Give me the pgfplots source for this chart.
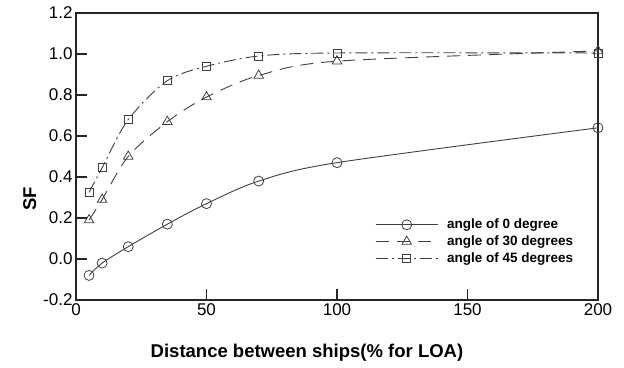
\documentclass[border=0pt]{standalone}
\usepackage{pgfplots}
\pgfplotsset{compat=1.18}
\usepackage{fontspec}
\setmainfont{Liberation Sans}
\begin{document}
\begin{tikzpicture}
\useasboundingbox (-76pt,-67pt) rectangle (548pt,300pt);
\begin{axis}[
  at={(0pt,0pt)}, anchor=south west,
  scale only axis,
  width=522pt, height=287pt,
  xmin=0, xmax=200, ymin=-0.2, ymax=1.2,
  xtick={0,50,100,150,200},
  ytick={-0.2,0,0.2,0.4,0.6,0.8,1.0,1.2},
  tick align=inside,
  xtick pos=bottom, ytick pos=left,
  major tick length=11pt,
  tick style={black!85, line width=1.3pt},
  axis line style={black!85, line width=1.8pt},
  /pgf/number format/assume math mode=true,
  yticklabel style={/pgf/number format/.cd, fixed, fixed zerofill, precision=1},
  ticklabel style={font=\fontsize{17}{18}\selectfont},
  xlabel={\bfseries Distance between ships(\% for LOA)},
  ylabel={\bfseries SF},
  label style={font=\fontsize{18.5}{20}\selectfont},
  xlabel style={at={(axis description cs:0.4425,0)}, anchor=base, yshift=-57pt},
  ylabel style={at={(axis description cs:-0.0766,0.352)}, anchor=base},
  legend style={draw=none, fill=none, inner sep=0pt, at={(axis cs:114.6,0.205)}, anchor=north west,
    font=\bfseries\fontsize{13.5}{15}\selectfont, row sep=1.5pt, cells={anchor=west},
    column sep=0pt, /tikz/column 1/.style={column sep=7pt}},
  legend image code/.code={\draw[mark repeat=2,mark phase=2] plot coordinates {(0pt,0pt) (31pt,0pt) (62pt,0pt)};},
  every axis plot/.append style={black!75, line width=0.9pt},
]
\addplot[smooth, mark=o, mark size=5pt, mark options={solid, line width=0.8pt}] coordinates {
 (5,-0.08) (10,-0.02) (20,0.06) (35,0.17) (50,0.27) (70,0.38) (100,0.47) (200,0.64)};
\addlegendentry{angle of 0 degree}
\addplot[smooth, dash pattern=on 13pt off 8pt, mark=triangle, mark size=5.5pt, mark options={solid, line width=0.8pt}] coordinates {
 (5,0.19) (10,0.29) (20,0.50) (35,0.67) (50,0.79) (70,0.895) (100,0.965) (200,1.015)};
\addlegendentry{angle of 30 degrees}
\addplot[smooth, dash pattern=on 12pt off 4pt on 2pt off 4pt, mark=square, mark size=4pt, mark options={solid, line width=0.8pt}] coordinates {
 (5,0.325) (10,0.445) (20,0.68) (35,0.87) (50,0.94) (70,0.99) (100,1.005) (200,1.005)};
\addlegendentry{angle of 45 degrees}
\end{axis}
\end{tikzpicture}
\end{document}
